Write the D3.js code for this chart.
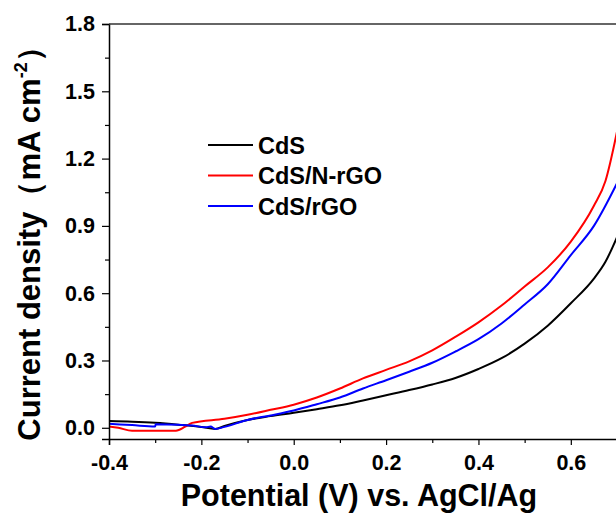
<!DOCTYPE html>
<html><head><meta charset="utf-8">
<script src="https://cdn.jsdelivr.net/npm/d3@7"></script>
<style>body{margin:0;background:#fff}svg{display:block}</style>
</head><body>
<script>
const seriesNames = ["CdS", "CdS/N-rGO", "CdS/rGO"];
const seriesColors = ["#000000", "#ff0000", "#0000ff"];

const cdsV = [-0.40,-0.35,-0.30,-0.25,-0.20,-0.17,-0.15,-0.10,-0.05,0.00,0.05,0.10,0.15,0.20,0.25,0.30,0.35,0.40,0.45,0.50,0.55,0.60,0.65,0.675,0.70];
const cdsI = [0.030,0.027,0.022,0.014,0.004,-0.005,0.008,0.035,0.052,0.067,0.083,0.100,0.122,0.145,0.168,0.193,0.222,0.262,0.310,0.375,0.455,0.555,0.665,0.740,0.850];

const nrgoV = [-0.40,-0.38,-0.35,-0.30,-0.255,-0.235,-0.22,-0.15,-0.10,-0.05,0.00,0.05,0.10,0.15,0.20,0.25,0.30,0.35,0.40,0.45,0.50,0.55,0.60,0.65,0.675,0.70];
const nrgoI = [0.006,0.000,-0.013,-0.013,-0.013,0.005,0.022,0.040,0.058,0.080,0.103,0.135,0.175,0.220,0.258,0.296,0.345,0.405,0.470,0.545,0.630,0.715,0.830,0.990,1.100,1.320];

const rgoV = [-0.40,-0.35,-0.30,-0.299,-0.25,-0.22,-0.19,-0.18,-0.17,-0.15,-0.10,-0.05,0.00,0.05,0.10,0.15,0.20,0.25,0.30,0.35,0.40,0.45,0.50,0.55,0.60,0.65,0.70];
const rgoI = [0.018,0.012,0.006,0.016,0.014,0.010,0.002,0.006,-0.005,0.004,0.035,0.055,0.077,0.105,0.135,0.175,0.212,0.250,0.290,0.340,0.395,0.465,0.550,0.640,0.770,0.900,1.090];

const xTicks = [-0.4,-0.2,0.0,0.2,0.4,0.6];
const xMinor = [-0.3,-0.1,0.1,0.3,0.5];
const yTicks = [0.0,0.3,0.6,0.9,1.2,1.5,1.8];
const yMinor = [0.15,0.45,0.75,1.05,1.35,1.65];

const W = 616, H = 513;
const svg = d3.select("body").append("svg").attr("width", W).attr("height", H);
const x = d3.scaleLinear().domain([-0.4, 0.7]).range([109, 617]);
const y = d3.scaleLinear().domain([-0.05, 1.8]).range([439, 24]);
const font = "'Liberation Sans', Arial, sans-serif";
const fmt = d => d3.format(".1f")(d).replace("\u2212", "-");

svg.append("clipPath").attr("id","clip").append("rect")
  .attr("x",109).attr("y",24).attr("width",508).attr("height",415);

const series = [
  {name: seriesNames[0], color: seriesColors[0], v: cdsV, i: cdsI},
  {name: seriesNames[1], color: seriesColors[1], v: nrgoV, i: nrgoI},
  {name: seriesNames[2], color: seriesColors[2], v: rgoV, i: rgoI}
];
const line = d3.line().x(d=>x(d[0])).y(d=>y(d[1])).curve(d3.curveMonotoneX);
const g = svg.append("g").attr("clip-path","url(#clip)");
series.forEach(s => {
  g.append("path").datum(s.v.map((v,k)=>[v,s.i[k]]))
    .attr("d", line).attr("fill","none").attr("stroke", s.color).attr("stroke-width", 2);
});

const xAxis = svg.append("g").attr("transform","translate(0,439)")
  .call(d3.axisBottom(x).tickValues(xTicks).tickFormat(fmt).tickSize(6).tickPadding(10));
svg.append("g").attr("transform","translate(0,439)")
  .call(d3.axisBottom(x).tickValues(xMinor).tickFormat("").tickSize(4))
  .select(".domain").remove();
const yAxis = svg.append("g").attr("transform","translate(109,0)")
  .call(d3.axisLeft(y).tickValues(yTicks).tickFormat(fmt).tickSize(7).tickPadding(7));
svg.append("g").attr("transform","translate(109,0)")
  .call(d3.axisLeft(y).tickValues(yMinor).tickFormat("").tickSize(4))
  .select(".domain").remove();
[xAxis, yAxis].forEach(a => {
  a.select(".domain").attr("stroke","#000").attr("stroke-width",1.5);
  a.selectAll("text").attr("font-family", font).attr("font-weight","bold").attr("font-size", 21.5).attr("fill","#000");
});
svg.selectAll(".tick line").attr("stroke","#000").attr("stroke-width",1.2);
svg.append("line").attr("x1",109).attr("x2",W).attr("y1",y(1.8)).attr("y2",y(1.8))
  .attr("stroke","#333").attr("stroke-width",1.5);

svg.append("text").attr("x", 359).attr("y", 506).attr("text-anchor","middle")
  .attr("font-family", font).attr("font-weight","bold").attr("font-size", 30.5)
  .text("Potential (V) vs. AgCl/Ag");
const yt = svg.append("text").attr("transform","translate(40,236) rotate(-90)").attr("text-anchor","middle")
  .attr("font-family", font).attr("font-weight","bold").attr("font-size", 31);
yt.append("tspan").text("Current density（mA cm");
yt.append("tspan").attr("font-size",18).attr("dy",-13).text("-2");
yt.append("tspan").attr("dy",13).text("）");

const leg = svg.append("g");
series.forEach((s,k) => {
  const ly = 145 + k*30.5;
  leg.append("line").attr("x1",208).attr("x2",253).attr("y1",ly).attr("y2",ly)
    .attr("stroke", s.color).attr("stroke-width",2);
  leg.append("text").attr("x",258).attr("y",ly+8.5).attr("font-family",font)
    .attr("font-weight","bold").attr("font-size",23.5).text(s.name);
});
</script>
</body></html>
